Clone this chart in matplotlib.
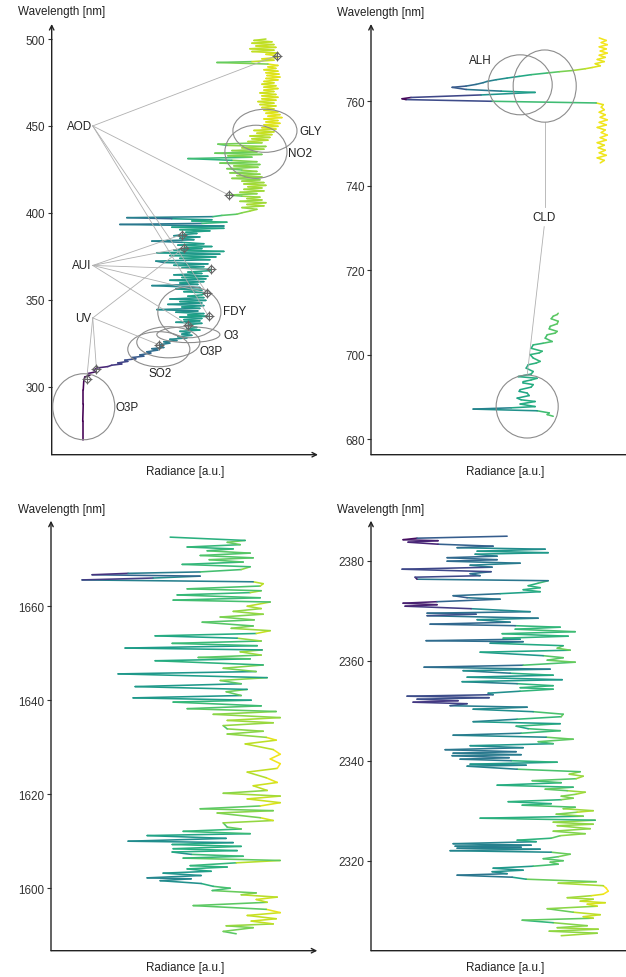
import numpy as np
import matplotlib
matplotlib.use("Agg")
import matplotlib.pyplot as plt
from matplotlib.collections import LineCollection
from matplotlib.patches import Ellipse
from matplotlib.colors import Normalize

plt.rcParams['font.family'] = ['Liberation Sans', 'DejaVu Sans']

# ---------------- data (wavelength [nm], radiance [a.u.]) ----------------
# UV-VIS band
uv_pts = [(269.5, 31), (280, 31), (290, 31.5), (298, 31.5), (303, 32), (305.5, 33), (306.5, 38), (307.5, 36),
          (308.5, 44), (309.5, 42), (310.7, 45), (311.5, 56), (312.3, 60), (313.0, 70), (313.6, 66), (314.5, 76),
          (315.2, 73), (316.0, 84), (316.7, 80), (317.5, 92), (318.2, 88), (319.3, 99), (320.0, 95), (321.0, 106),
          (321.8, 100), (322.5, 112), (323.3, 108), (324.1, 108), (325.0, 118), (325.8, 112), (326.5, 125),
          (327.2, 118), (328.0, 135), (328.7, 126), (329.5, 140), (330.2, 130), (331.0, 138), (331.8, 128),
          (332.5, 148), (333.2, 135), (334.0, 145), (334.8, 138), (335.6, 136), (336.4, 150), (337.0, 124),
          (337.8, 148), (338.5, 132), (339.2, 150), (340.0, 128), (340.4, 157), (341.2, 136), (342.0, 152),
          (342.8, 124), (343.5, 146), (344.3, 105), (345.0, 148), (345.8, 130), (346.6, 152), (347.3, 116),
          (348.1, 150), (348.9, 128), (349.6, 154), (350.4, 118), (351.2, 152), (352.0, 136), (352.8, 150),
          (353.9, 155), (354.6, 132), (355.4, 150), (356.2, 124), (357.0, 148), (358.1, 100), (358.8, 146),
          (359.6, 128), (360.4, 152), (361.2, 118), (362.0, 154), (362.8, 130), (363.5, 156), (364.3, 122),
          (365.1, 150), (365.9, 136), (366.7, 158), (367.4, 159), (368.2, 130), (369.0, 152), (369.8, 122),
          (370.6, 156), (371.4, 112), (372.2, 104), (373.0, 158), (373.8, 128), (374.6, 164), (375.4, 118),
          (376.2, 168), (377.0, 105), (377.8, 172), (378.6, 122), (379.4, 150), (379.9, 132), (380.6, 160),
          (381.4, 126), (382.2, 152), (383.0, 130), (383.7, 100), (384.5, 142), (385.3, 128), (386.1, 148),
          (386.8, 122), (387.4, 130), (388.1, 145), (388.8, 134), (389.6, 158), (390.3, 128), (391.1, 172),
          (391.7, 120), (392.4, 172), (393.3, 68), (393.9, 150), (394.6, 175), (395.3, 140), (396.0, 160),
          (396.6, 120), (397.2, 75), (397.8, 161), (398.5, 170), (399.2, 185), (400.0, 190), (401.0, 198),
          (402.0, 205), (403.0, 190), (404.0, 212), (404.8, 195), (405.8, 214), (406.6, 188), (407.4, 210),
          (408.2, 195), (409.0, 208), (409.6, 190), (410.2, 177), (411.0, 205), (411.8, 188), (412.6, 212),
          (413.5, 192), (414.3, 210), (415.0, 196), (415.8, 214), (416.6, 192), (417.4, 212), (418.2, 190),
          (419.0, 208), (419.8, 180), (420.6, 210), (421.4, 185), (422.2, 208), (423.0, 178), (423.8, 205),
          (424.6, 190), (425.4, 175), (426.2, 206), (427.0, 182), (427.8, 208), (428.6, 168), (429.4, 205),
          (430.2, 180), (431.2, 136), (432.0, 200), (432.8, 176), (433.6, 210), (434.3, 163), (435.0, 205),
          (435.8, 180), (436.6, 212), (437.4, 190), (438.2, 214), (438.8, 175), (439.5, 166), (440.3, 210),
          (441.0, 196), (441.8, 216), (442.6, 200), (443.4, 218), (444.2, 198), (445.0, 220), (445.8, 205),
          (446.6, 222), (447.4, 202), (448.2, 224), (449.0, 210), (449.8, 226), (450.6, 212), (451.5, 228),
          (452.3, 214), (453.1, 226), (454.0, 212), (454.8, 230), (455.6, 216), (456.5, 228), (457.3, 214),
          (458.1, 226), (459.0, 212), (459.8, 222), (460.6, 210), (461.5, 224), (462.3, 208), (463.1, 222),
          (464.0, 206), (464.8, 224), (465.6, 210), (466.5, 226), (467.3, 210), (468.1, 224), (469.0, 208),
          (469.8, 222), (470.6, 212), (471.5, 226), (472.3, 212), (473.1, 224), (474.0, 210), (474.8, 222),
          (475.6, 212), (476.5, 226), (477.3, 214), (478.1, 228), (479.0, 215), (479.8, 227), (480.6, 214),
          (481.5, 226), (482.3, 212), (483.1, 224), (484.0, 216), (484.8, 226), (485.6, 216), (486.5, 165),
          (487.0, 200), (487.8, 222), (488.6, 210), (489.4, 226), (490.4, 225), (491.2, 214), (492.0, 226),
          (492.8, 200), (493.6, 222), (494.4, 198), (495.2, 224), (496.0, 204), (496.8, 222), (497.6, 200),
          (498.4, 220), (499.2, 202), (500.0, 214)]

# NIR band (O2-A) and the red window below it
nir_pts = [(745.4, 229), (746.0, 233), (746.6, 226), (747.2, 235), (747.8, 228), (748.4, 234), (749.0, 227),
           (749.6, 233), (750.2, 226), (750.8, 235), (751.4, 229), (752.0, 236), (752.6, 230), (753.2, 234),
           (753.8, 226), (754.4, 235), (755.0, 228), (755.6, 236), (756.2, 229), (756.8, 234), (757.4, 228),
           (758.0, 233), (758.6, 230), (759.2, 232), (759.6, 225), (760.0, 120), (760.4, 35), (760.6, 31),
           (760.9, 40), (761.5, 110), (762.1, 164), (762.4, 130), (762.8, 95), (763.3, 81), (763.6, 95),
           (764.0, 105), (764.4, 112), (764.7, 116), (765.1, 125), (765.5, 136), (765.9, 148), (766.3, 160),
           (766.7, 176), (767.0, 188), (767.3, 202), (767.7, 214), (768.0, 221), (768.4, 229), (768.9, 224),
           (769.4, 233), (769.9, 226), (770.4, 234), (770.9, 228), (771.4, 236), (771.9, 229), (772.4, 235),
           (772.9, 228), (773.4, 236), (773.9, 230), (774.4, 235), (775.0, 228)]
red_pts = [(685.4, 182), (685.8, 176), (686.2, 178), (686.7, 166), (687.1, 102), (687.4, 140), (687.7, 164),
           (688.3, 149), (688.9, 164), (689.3, 150), (689.7, 146), (690.3, 158), (690.9, 156), (691.3, 148),
           (691.7, 149), (692.3, 160), (692.9, 162), (693.3, 152), (693.6, 152), (694.0, 160), (694.4, 166),
           (694.8, 147), (695.4, 160), (696.0, 162), (696.8, 155), (697.6, 157), (698.0, 165), (698.4, 169),
           (699.2, 162), (700.0, 159), (700.4, 168), (700.8, 171), (701.5, 160), (702.3, 162), (702.7, 172),
           (703.1, 181), (703.9, 174), (704.7, 176), (705.1, 184), (705.5, 186), (706.1, 178), (706.7, 179),
           (707.3, 186), (707.9, 187), (708.5, 180), (709.1, 182), (709.5, 186), (709.8, 187)]

# SWIR-1 band
swir1_pts = [(1590.3, 185), (1590.8, 172), (1591.6, 202), (1592.0, 175), (1592.4, 222), (1593.0, 200),
             (1593.5, 225), (1594.2, 196), (1594.8, 229), (1595.5, 215), (1596.3, 142), (1597.0, 216),
             (1597.6, 205), (1598.1, 226), (1598.6, 190), (1599.0, 205), (1599.5, 161), (1600.0, 179),
             (1600.4, 162), (1601.0, 150), (1601.6, 109), (1602.0, 140), (1602.2, 96), (1602.7, 150),
             (1603.2, 112), (1603.6, 160), (1604.1, 136), (1604.5, 176), (1604.8, 139), (1605.4, 185),
             (1605.9, 229), (1606.4, 132), (1606.8, 192), (1607.2, 140), (1607.7, 121), (1608.0, 186),
             (1608.4, 122), (1608.9, 190), (1609.3, 121), (1609.7, 182), (1610.0, 77), (1610.6, 175),
             (1611.2, 96), (1611.6, 199), (1612.1, 132), (1612.6, 190), (1613.0, 176), (1613.9, 172),
             (1614.4, 222), (1615.0, 209), (1616.0, 166), (1616.5, 222), (1616.9, 149), (1617.5, 209),
             (1618.2, 229), (1619.0, 196), (1619.6, 229), (1620.2, 172), (1620.8, 216), (1621.8, 202),
             (1622.5, 226), (1623.5, 215), (1624.7, 196), (1625.5, 226), (1626.5, 229), (1627.5, 219),
             (1628.5, 229), (1629.5, 222), (1630.7, 194), (1631.5, 225), (1632.1, 215), (1632.8, 176),
             (1633.4, 212), (1633.9, 176), (1634.6, 172), (1635.2, 222), (1635.7, 176), (1636.3, 229),
             (1637.0, 162), (1637.6, 225), (1638.2, 136), (1638.8, 210), (1639.6, 122), (1640.0, 200),
             (1640.5, 82), (1641.0, 190), (1641.8, 175), (1642.3, 196), (1642.9, 84), (1643.5, 190),
             (1644.2, 169), (1644.8, 216), (1645.6, 67), (1646.1, 205), (1646.8, 172), (1647.5, 212),
             (1648.4, 104), (1648.8, 199), (1649.1, 147), (1649.6, 210), (1650.3, 189), (1650.7, 211),
             (1651.1, 74), (1651.6, 206), (1652.1, 121), (1652.6, 210), (1653.2, 186), (1653.7, 104),
             (1654.2, 205), (1654.8, 219), (1655.3, 180), (1655.8, 202), (1656.6, 151), (1657.1, 203),
             (1657.7, 169), (1658.3, 212), (1658.9, 182), (1659.5, 210), (1660.0, 196), (1660.9, 219),
             (1661.3, 122), (1661.8, 209), (1662.4, 126), (1662.9, 199), (1663.3, 210), (1663.7, 136),
             (1664.3, 209), (1664.8, 212), (1665.2, 202), (1665.6, 31), (1666.0, 102), (1666.4, 149),
             (1666.7, 41), (1667.0, 77), (1667.3, 149), (1667.8, 190), (1668.4, 199), (1668.9, 131),
             (1669.4, 192), (1669.9, 158), (1670.3, 202), (1670.8, 149), (1671.3, 199), (1671.8, 156),
             (1672.2, 182), (1672.6, 136), (1673.1, 189), (1673.6, 176), (1674.0, 194), (1674.7, 119)]

# SWIR-3 band
swir3_pts = [(2305.0, 190), (2305.5, 226), (2305.9, 178), (2306.3, 227), (2306.6, 186), (2307.0, 216),
             (2307.6, 182), (2308.1, 151), (2308.5, 222), (2308.8, 212), (2309.2, 229), (2309.7, 202),
             (2310.4, 176), (2310.9, 226), (2311.3, 216), (2311.6, 234), (2311.9, 209), (2312.3, 222),
             (2312.6, 196), (2313.0, 220), (2313.3, 232), (2313.9, 237), (2314.5, 235), (2315.0, 232),
             (2315.5, 187), (2315.8, 225), (2316.3, 155), (2316.7, 141), (2317.1, 86), (2317.4, 136),
             (2317.8, 121), (2318.1, 152), (2318.5, 122), (2318.9, 162), (2319.3, 187), (2319.7, 179),
             (2320.0, 192), (2320.4, 172), (2320.8, 187), (2321.3, 199), (2321.7, 180), (2322.0, 79),
             (2322.3, 169), (2322.5, 86), (2322.7, 150), (2322.9, 84), (2323.1, 160), (2323.4, 82),
             (2323.8, 165), (2324.1, 146), (2324.5, 180), (2325.0, 189), (2325.4, 214), (2325.9, 182),
             (2326.4, 219), (2327.0, 186), (2327.3, 222), (2327.7, 182), (2328.1, 224), (2328.5, 109),
             (2328.9, 212), (2329.3, 185), (2329.7, 206), (2330.0, 222), (2330.4, 192), (2330.7, 204),
             (2331.1, 151), (2331.4, 180), (2331.8, 137), (2332.2, 190), (2332.5, 202), (2332.9, 190),
             (2333.3, 205), (2333.7, 214), (2334.0, 196), (2334.3, 174), (2334.7, 202), (2335.1, 126),
             (2335.6, 190), (2336.0, 161), (2336.4, 205), (2336.9, 212), (2337.3, 198), (2337.8, 209),
             (2338.3, 146), (2338.9, 96), (2339.1, 155), (2339.3, 99), (2339.7, 186), (2340.0, 140),
             (2340.3, 89), (2340.6, 138), (2341.0, 81), (2341.2, 150), (2341.5, 82), (2341.8, 145),
             (2342.2, 74), (2342.6, 152), (2343.0, 99), (2343.4, 182), (2343.8, 167), (2344.3, 202),
             (2344.7, 175), (2345.1, 82), (2345.5, 150), (2346.0, 189), (2346.4, 157), (2346.9, 145),
             (2347.4, 189), (2347.8, 102), (2348.3, 146), (2348.8, 190), (2349.3, 192), (2349.8, 162),
             (2350.3, 102), (2350.7, 156), (2351.0, 79), (2351.4, 96), (2351.7, 42), (2352.0, 87),
             (2352.3, 46), (2352.6, 118), (2352.9, 36), (2353.2, 122), (2353.5, 117), (2353.9, 149),
             (2354.3, 182), (2354.6, 149), (2355.0, 182), (2355.4, 146), (2355.8, 91), (2356.2, 191),
             (2356.7, 96), (2357.1, 182), (2357.5, 139), (2358.0, 92), (2358.3, 179), (2358.7, 53),
             (2359.1, 152), (2359.7, 204), (2360.1, 176), (2360.6, 192), (2361.0, 172), (2361.7, 109),
             (2362.1, 199), (2362.5, 186), (2363.0, 192), (2363.5, 119), (2363.8, 152), (2364.0, 55),
             (2364.3, 149), (2364.5, 132), (2364.9, 197), (2365.4, 131), (2365.8, 204), (2366.3, 144),
             (2366.7, 189), (2367.0, 144), (2367.3, 59), (2367.7, 139), (2368.2, 106), (2368.5, 167),
             (2369.0, 56), (2369.3, 105), (2369.5, 56), (2369.8, 159), (2370.4, 100), (2370.9, 34),
             (2371.2, 66), (2371.5, 32), (2371.8, 66), (2372.3, 129), (2372.6, 96), (2373.0, 82),
             (2373.4, 129), (2373.8, 169), (2374.2, 152), (2374.6, 169), (2375.0, 157), (2375.5, 167),
             (2376.0, 177), (2376.3, 46), (2376.7, 44), (2377.0, 109), (2377.4, 99), (2377.8, 120),
             (2378.3, 31), (2378.7, 121), (2379.1, 99), (2379.5, 149), (2379.9, 76), (2380.2, 126),
             (2380.6, 76), (2380.9, 126), (2381.3, 104), (2381.6, 177), (2381.9, 106), (2382.3, 174),
             (2382.6, 86), (2382.9, 122), (2383.3, 67), (2383.7, 37), (2384.0, 67), (2384.2, 32),
             (2384.5, 46), (2384.9, 136)]

# trace-gas / product annotations, UV-VIS panel
circle_names = ['GLY', 'NO2', 'FDY', 'O3', 'O3P', 'SO2', 'O3P']
circle_x = [213, 204, 137.5, 136.5, 116.5, 107, 32]
circle_wl = [447.2, 435.1, 342.8, 329.9, 325.5, 321.5, 288.4]
circle_w = [64, 62, 63, 63, 63, 62, 62]
circle_h = [24.8, 30.6, 29.4, 9.2, 17.9, 20.2, 38]
circle_lab_x = [247, 236, 171, 172, 148, 97, 64]
circle_lab_wl = [447.1, 434.7, 343.7, 329.9, 320.2, 308.1, 288.2]

pointer_names = ['AOD', 'AUI', 'UV']
pointer_wl = [450.0, 369.7, 339.5]
pointer_targets = [[490.4, 410.2, 353.9, 340.4],
                   [387.4, 379.9, 367.4, 353.9, 335.6],
                   [379.9, 324.1, 310.1, 304.5]]
marker_wl = [490.4, 410.2, 387.4, 379.9, 367.4, 353.9, 340.4, 335.6, 324.1, 310.1, 304.5]
marker_rad = [224.7, 177, 129.7, 132, 158.7, 155, 156.7, 136, 107, 44.7, 35]

# NIR panel annotations
nir_circle_x = [149, 173.5, 156]
nir_circle_wl = [763.9, 763.6, 687.7]
nir_circle_w = [64, 63, 62]
nir_circle_h = [14.2, 17.1, 14.9]


def draw_spectrum(ax, pts_list):
    allr = np.concatenate([np.array(p)[:, 1] for p in pts_list])
    norm = Normalize(allr.min(), allr.max())
    for pts in pts_list:
        wl, rad = map(np.array, zip(*pts))
        xy = np.column_stack([rad, wl])
        segs = np.stack([xy[:-1], xy[1:]], axis=1)
        lc = LineCollection(segs, cmap='viridis', norm=norm, linewidth=1.15,
                            capstyle='round', joinstyle='round', zorder=2)
        lc.set_array((rad[:-1] + rad[1:]) / 2)
        ax.add_collection(lc)


def frame(ax, ylim, yticks):
    ax.set_xlim(0, 266)
    ax.set_ylim(*ylim)
    for s in ax.spines.values():
        s.set_visible(False)
    ax.set_xticks([])
    ax.set_yticks(yticks)
    ax.tick_params(axis='y', length=2.9, width=0.8, color='#333333', labelsize=8.4,
                   labelcolor='#333333', pad=1.8)
    arrow = dict(arrowstyle='->', lw=1.0, color='#222222', shrinkA=0, shrinkB=0, mutation_scale=8)
    ax.annotate('', xy=(0, 1), xytext=(0, 0), xycoords='axes fraction', arrowprops=arrow,
                annotation_clip=False)
    ax.annotate('', xy=(1, 0), xytext=(0, 0), xycoords='axes fraction', arrowprops=arrow,
                annotation_clip=False)


W, H = 626, 978
fig = plt.figure(figsize=(W / 100, H / 100), dpi=100)
aw = 266.3 / W
ax1 = fig.add_axes([51.7 / W, 1 - 455.7 / H, aw, 430.7 / H])
ax2 = fig.add_axes([371 / W, 1 - 455.7 / H, aw, 430.7 / H])
ax3 = fig.add_axes([51 / W, 1 - 951.7 / H, aw, 430.0 / H])
ax4 = fig.add_axes([371 / W, 1 - 951.7 / H, aw, 430.0 / H])

frame(ax1, (260.8, 508.65), [300, 350, 400, 450, 500])
frame(ax2, (676.3, 778.3), [680, 700, 720, 740, 760])
frame(ax3, (1586.7, 1678.2), [1600, 1620, 1640, 1660])
frame(ax4, (2302, 2388), [2320, 2340, 2360, 2380])

draw_spectrum(ax1, [uv_pts])
draw_spectrum(ax2, [nir_pts, red_pts])
draw_spectrum(ax3, [swir1_pts])
draw_spectrum(ax4, [swir3_pts])

gray = '#8c8c8c'
txt = '#222222'

# UV-VIS annotations
for i in range(len(circle_names)):
    ax1.add_patch(Ellipse((circle_x[i], circle_wl[i]), circle_w[i], circle_h[i], fill=False,
                          edgecolor=gray, lw=0.8, zorder=3))
    ax1.text(circle_lab_x[i], circle_lab_wl[i], circle_names[i], fontsize=8.4, color=txt,
             ha='left', va='center', zorder=5)

lookup = dict(zip(marker_wl, marker_rad))
for name, wl, targets in zip(pointer_names, pointer_wl, pointer_targets):
    ax1.text(40, wl, name, fontsize=8.4, color=txt, ha='right', va='center', zorder=5)
    for t in targets:
        ax1.plot([41, lookup[t]], [wl, t], color='#b0b0b0', lw=0.6, zorder=3)

ax1.plot(marker_rad, marker_wl, ls='none', marker='D', ms=4.5, mfc='none', mec='#666666',
         mew=0.8, zorder=4)
ax1.plot(marker_rad, marker_wl, ls='none', marker='+', ms=6.5, color='#666666', mew=0.7, zorder=4)

# NIR annotations
for i in range(3):
    ax2.add_patch(Ellipse((nir_circle_x[i], nir_circle_wl[i]), nir_circle_w[i], nir_circle_h[i],
                          fill=False, edgecolor=gray, lw=0.8, zorder=3))
ax2.text(109, 769.7, 'ALH', fontsize=8.4, color=txt, ha='center', va='center')
ax2.text(173, 732.6, 'CLD', fontsize=8.4, color=txt, ha='center', va='center')
ax2.plot([173.5, 173.5], [nir_circle_wl[1] - nir_circle_h[1] / 2, 735.0], color='#b0b0b0', lw=0.6)
ax2.plot([173, nir_circle_x[2]], [730.3, nir_circle_wl[2] + nir_circle_h[2] / 2], color='#b0b0b0', lw=0.6)

# axis titles
for x0, y0 in [(18, 12.5), (337, 13), (18, 509.5), (337, 509.5)]:
    fig.text(x0 / W, 1 - y0 / H, 'Wavelength [nm]', fontsize=8.4, color=txt, ha='left', va='center')
for x0, y0 in [(185, 471.7), (505, 471.7), (185, 968.3), (505, 968.3)]:
    fig.text(x0 / W, 1 - y0 / H, 'Radiance [a.u.]', fontsize=8.4, color=txt, ha='center', va='center')

fig.savefig('out.png', dpi=100, facecolor='white')
